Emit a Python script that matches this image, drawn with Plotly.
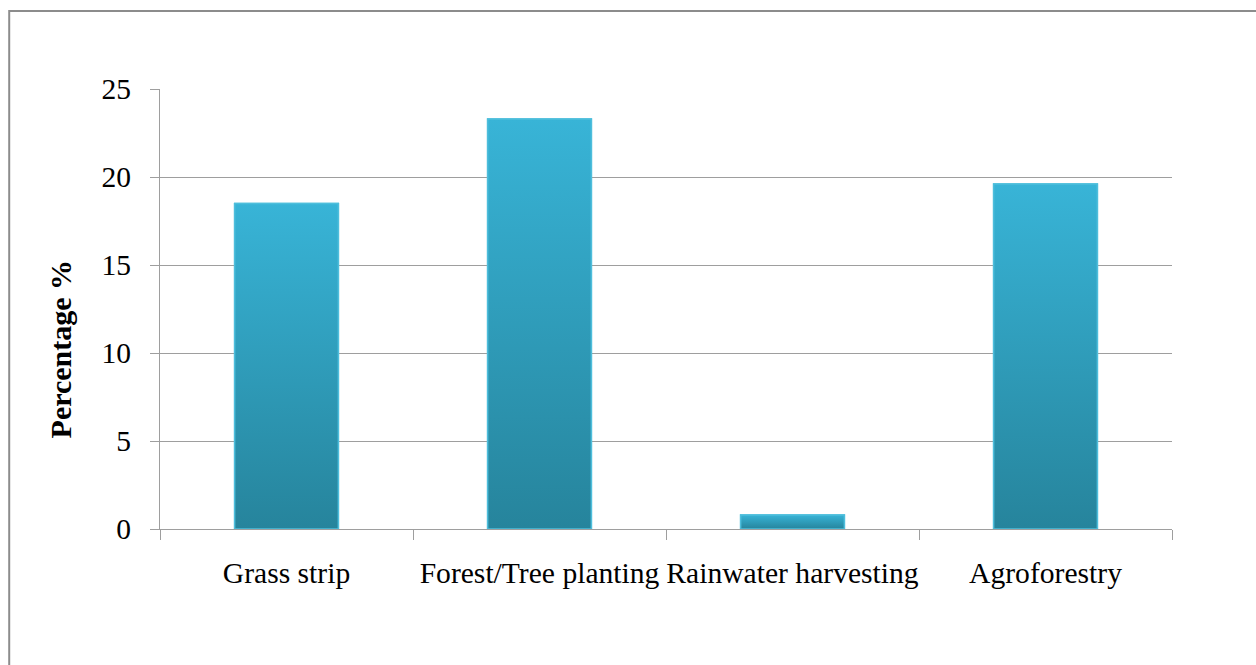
import plotly.graph_objects as go

# Soil and water conservation practices and share of respondents (%)
practices = ["Grass strip", "Forest/Tree planting", "Rainwater harvesting", "Agroforestry"]
percentages = [18.5, 23.3, 0.8, 19.6]
y_ticks = [0, 5, 10, 15, 20, 25]

BAR_WIDTH = 0.41
TOP_COLOR = "#38B4D7"
BOTTOM_COLOR = "#26849C"
EDGE_COLOR = "#4EBEDC"
GRID_COLOR = "#9E9E9E"
FONT = "Liberation Serif, Times New Roman, serif"

positions = list(range(len(practices)))

fig = go.Figure()

# Base bars
fig.add_trace(go.Bar(
    x=positions,
    y=percentages,
    width=BAR_WIDTH,
    marker=dict(color="#2F9DBB", line=dict(color=EDGE_COLOR, width=1.5)),
    hovertemplate="%{customdata}: %{y}%<extra></extra>",
    customdata=practices,
    showlegend=False,
))

# Vertical gradient overlay for each bar, bottom dark to top light
for pos, val in zip(positions, percentages):
    x0, x1 = pos - BAR_WIDTH / 2, pos + BAR_WIDTH / 2
    fig.add_trace(go.Scatter(
        x=[x0, x1, x1, x0, x0],
        y=[0, 0, val, val, 0],
        mode="lines",
        fill="toself",
        fillgradient=dict(
            type="vertical",
            start=0,
            stop=val,
            colorscale=[[0, BOTTOM_COLOR], [1, TOP_COLOR]],
        ),
        line=dict(color=EDGE_COLOR, width=1.5),
        hoverinfo="skip",
        showlegend=False,
    ))

boundaries = [p - 0.5 for p in positions] + [positions[-1] + 0.5]

fig.update_layout(
    width=1256,
    height=665,
    margin=dict(l=160, r=84, t=89, b=136),
    paper_bgcolor="white",
    plot_bgcolor="white",
    font=dict(family=FONT, size=29, color="black"),
    xaxis=dict(
        range=[boundaries[0], boundaries[-1]],
        tickmode="array",
        tickvals=positions,
        ticktext=practices,
        ticks="",
        showgrid=False,
        zeroline=False,
        showline=True,
        linecolor=GRID_COLOR,
        linewidth=1,
        ticklabelstandoff=17,
        tickfont=dict(family=FONT, size=29.6, color="black"),
        minor=dict(
            tickmode="array",
            tickvals=boundaries,
            ticks="outside",
            ticklen=10,
            tickcolor=GRID_COLOR,
            tickwidth=1,
            showgrid=False,
        ),
        fixedrange=True,
    ),
    yaxis=dict(
        range=[0, 25],
        tickmode="array",
        tickvals=y_ticks,
        ticks="outside",
        ticklen=9,
        tickcolor=GRID_COLOR,
        showgrid=True,
        gridcolor=GRID_COLOR,
        gridwidth=1,
        zeroline=False,
        showline=True,
        linecolor=GRID_COLOR,
        linewidth=1,
        ticklabelstandoff=13,
        tickfont=dict(family=FONT, size=29.5, color="black"),
        fixedrange=True,
    ),
    annotations=[dict(
        text="<b>Percentage %</b>",
        xref="paper", yref="paper",
        x=-0.098, y=0.41,
        textangle=-90,
        showarrow=False,
        font=dict(family=FONT, size=30, color="black"),
        xanchor="center", yanchor="middle",
    )],
    shapes=[dict(
        type="rect",
        xref="paper", yref="paper",
        x0=-0.149, x1=1.3, y0=-0.6, y1=1.177,
        line=dict(color="#8C8C8C", width=2),
        fillcolor="rgba(0,0,0,0)",
        layer="below",
    )],
)

fig.write_html("out.html")
